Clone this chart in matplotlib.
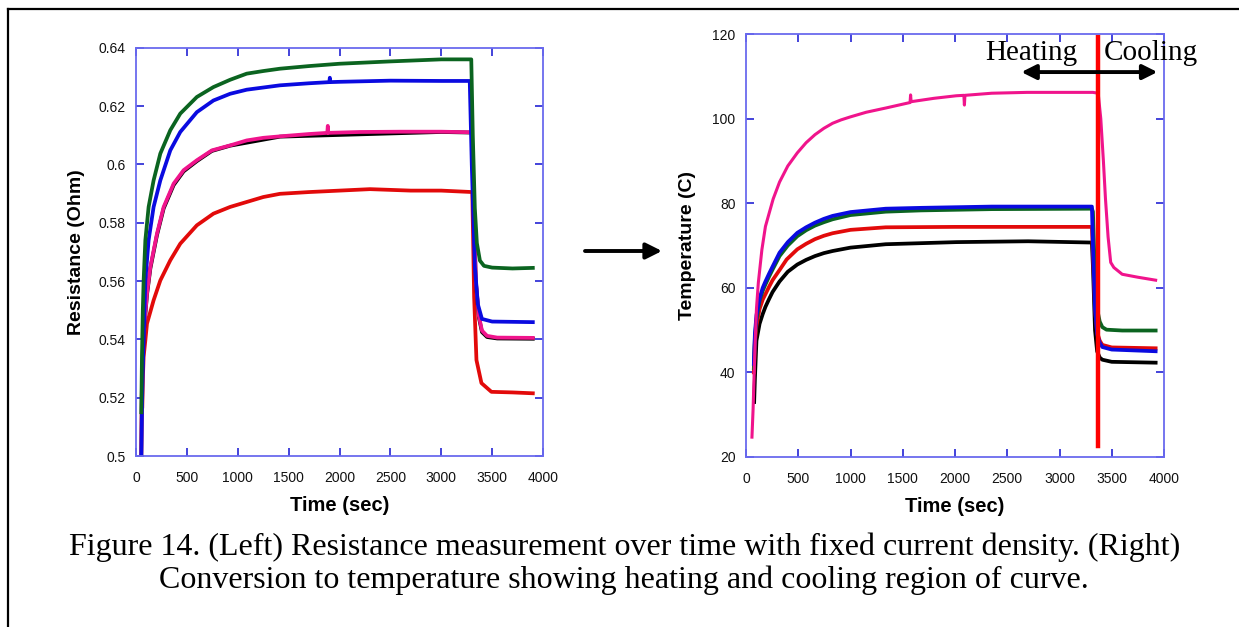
import matplotlib
matplotlib.use("Agg")
import matplotlib.pyplot as plt
from matplotlib.lines import Line2D
from matplotlib.patches import FancyArrowPatch

plt.rcParams['font.family'] = ['Liberation Sans', 'DejaVu Sans']

# ---- resistance run (left) ----
t_grn_L = [52, 59, 67, 75, 92, 124, 173, 239, 337, 435, 598, 761, 925, 1088, 1251, 1415,
           1700, 2000, 2500, 3000, 3295, 3310, 3330, 3350, 3380, 3420, 3500, 3700, 3900]
r_grn = [0.515, 0.535, 0.550, 0.5602, 0.574, 0.5854, 0.5945, 0.6037, 0.6117, 0.6174,
         0.6231, 0.6265, 0.629, 0.6311, 0.632, 0.6328, 0.6337, 0.6345, 0.6353, 0.636,
         0.636, 0.610, 0.585, 0.573, 0.567, 0.5652, 0.5646, 0.5643, 0.5645]

t_blu_L = [52, 59, 67, 75, 92, 124, 173, 239, 337, 435, 598, 761, 925, 1088, 1415, 1700,
           1900, 1905, 1910, 2000, 2500, 3000, 3280, 3300, 3330, 3360, 3400, 3500, 3900]
r_blu = [0.500, 0.517, 0.530, 0.540, 0.5602, 0.574, 0.5854, 0.5945, 0.6048, 0.6111,
         0.6179, 0.6219, 0.6242, 0.6256, 0.6271, 0.6278, 0.6282, 0.6297, 0.6282, 0.6283,
         0.6287, 0.6286, 0.6286, 0.600, 0.565, 0.552, 0.547, 0.5461, 0.5459]

t_pnk_L = [52, 59, 67, 75, 108, 141, 206, 272, 370, 468, 598, 746, 925, 1088, 1251, 1415,
           1700, 1880, 1885, 1890, 2200, 2600, 3000, 3300, 3320, 3340, 3370, 3400, 3450,
           3550, 3900]
r_pnk = [0.500, 0.528, 0.536, 0.542, 0.5557, 0.5648, 0.5762, 0.5854, 0.5934, 0.598,
         0.6014, 0.6048, 0.6065, 0.6082, 0.6091, 0.6096, 0.6104, 0.6108, 0.6132, 0.6108,
         0.6111, 0.6112, 0.6112, 0.6110, 0.585, 0.560, 0.548, 0.543, 0.5412, 0.5406,
         0.5405]

# black run sits almost exactly under the pink one
t_blk_L = [52, 59, 75, 108, 141, 206, 272, 370, 468, 598, 746, 925, 1415, 3000, 3300,
           3320, 3340, 3370, 3400, 3450, 3550, 3900]
r_blk = [0.500, 0.527, 0.5415, 0.5553, 0.5643, 0.5757, 0.5849, 0.5929, 0.5976, 0.6011,
         0.6046, 0.6064, 0.6095, 0.6111, 0.6109, 0.5845, 0.5595, 0.5475, 0.5425, 0.5408,
         0.5403, 0.5402]

t_red_L = [62, 69, 75, 92, 108, 173, 239, 337, 435, 598, 761, 925, 1088, 1251, 1415,
           1700, 2000, 2300, 2700, 3000, 3305, 3313, 3323, 3346, 3395, 3493, 3700, 3900]
r_red = [0.517, 0.528, 0.534, 0.5397, 0.5454, 0.5534, 0.5602, 0.5671, 0.5728, 0.5791,
         0.5831, 0.5854, 0.5871, 0.5888, 0.5899, 0.5905, 0.591, 0.5915, 0.591, 0.591,
         0.5905, 0.575, 0.5546, 0.5329, 0.525, 0.522, 0.5218, 0.5215]

# ---- temperature conversion (right) ----
t_pnk_R = [57, 68, 85, 100, 118, 152, 186, 220, 260, 321, 400, 491, 575, 660, 745, 829,
           910, 998, 1150, 1337, 1570, 1575, 1580, 1800, 2013, 2085, 2090, 2095, 2352,
           2690, 3320, 3370, 3395, 3420, 3440, 3465, 3490, 3520, 3600, 3750, 3920]
T_pnk = [24.7, 31.4, 45.5, 55.0, 61.2, 69.0, 74.5, 77.5, 81.0, 85.0, 88.8, 91.9, 94.3,
         96.2, 97.7, 98.9, 99.7, 100.4, 101.5, 102.5, 103.8, 105.6, 104.0, 104.8, 105.4,
         105.5, 103.2, 105.5, 106.0, 106.2, 106.2, 106.0, 100.0, 90.0, 81.0, 72.0, 66.0,
         64.8, 63.2, 62.5, 61.8]

t_blu_R = [75, 85, 100, 130, 160, 186, 220, 254, 321, 400, 491, 575, 660, 745, 829, 1000,
           1337, 1675, 2352, 3310, 3320, 3340, 3360, 3385, 3410, 3500, 3920]
T_blu = [42.0, 49.0, 53.5, 57.5, 60.0, 61.5, 63.3, 65.0, 68.3, 70.8, 73.0, 74.3, 75.4,
         76.3, 77.0, 77.9, 78.7, 78.9, 79.2, 79.2, 70.0, 55.0, 49.0, 47.0, 46.0, 45.4, 45.0]

t_grn_R = [75, 85, 100, 130, 160, 186, 220, 254, 321, 400, 491, 575, 660, 745, 829, 1000,
           1337, 1675, 2352, 3310, 3320, 3340, 3360, 3385, 3410, 3450, 3600, 3920]
T_grn = [41.0, 48.0, 52.5, 57.0, 59.3, 60.8, 62.6, 64.3, 67.5, 70.0, 72.2, 73.6, 74.7,
         75.5, 76.2, 77.2, 78.0, 78.3, 78.6, 78.7, 78.0, 62.0, 55.0, 52.0, 50.7, 50.1,
         49.9, 49.9]

t_red_R = [75, 85, 100, 130, 160, 186, 220, 254, 321, 389, 491, 575, 660, 745, 829, 1000,
           1337, 2000, 3310, 3320, 3340, 3360, 3385, 3410, 3500, 3920]
T_red = [40.0, 47.0, 51.0, 55.0, 57.2, 58.5, 60.2, 61.8, 64.2, 66.7, 69.1, 70.4, 71.5,
         72.3, 72.9, 73.7, 74.3, 74.4, 74.4, 68.0, 55.0, 49.5, 47.5, 46.5, 45.9, 45.7]

t_blk_R = [78, 85, 100, 130, 160, 186, 220, 254, 321, 400, 491, 575, 660, 745, 829, 1000,
           1337, 2013, 2700, 3310, 3320, 3340, 3360, 3385, 3410, 3500, 3920]
T_blk = [33.0, 38.4, 47.5, 51.5, 53.8, 55.5, 57.3, 59.0, 61.5, 63.8, 65.5, 66.6, 67.5,
         68.2, 68.7, 69.5, 70.3, 70.8, 71.0, 70.7, 65.0, 50.0, 45.0, 43.5, 43.0, 42.5, 42.3]

# heating / cooling boundary marker
t_split = [3365, 3365]
T_split = [22.6, 119.3]

x_ticks = [0, 500, 1000, 1500, 2000, 2500, 3000, 3500, 4000]
r_ticks = [0.5, 0.52, 0.54, 0.56, 0.58, 0.6, 0.62, 0.64]
r_ticklabels = ['0.5', '0.52', '0.54', '0.56', '0.58', '0.6', '0.62', '0.64']
T_ticks = [20, 40, 60, 80, 100, 120]

caption1 = "Figure 14. (Left) Resistance measurement over time with fixed current density. (Right)"
caption2 = "Conversion to temperature showing heating and cooling region of curve."

GREEN = '#0b6420'
BLUE = '#0a0ae0'
PINK = '#f0148c'
RED = '#e20a0a'
SPINE = '#6a6aee'
TICK = '#2424d4'

W, H = 1239, 627
fig = plt.figure(figsize=(W / 100, H / 100), dpi=100)

ax1 = fig.add_axes([136 / W, (H - 456) / H, 407 / W, 408.3 / H])
ax2 = fig.add_axes([746 / W, (H - 457) / H, 418 / W, 423 / H])


def style(ax):
    for s in ax.spines.values():
        s.set_color(SPINE)
        s.set_linewidth(1.3)
    ax.tick_params(direction='in', top=True, right=True, length=5.5, width=1.2,
                   color=TICK, labelsize=10, labelcolor='#111111')
    ax.tick_params(axis='x', pad=11)
    ax.tick_params(axis='y', pad=7.5)
    ax.set_xlim(0, 4000)
    ax.set_xticks(x_ticks)
    ax.set_xticklabels([str(v) for v in x_ticks])


lw = 2.7
ax1.plot(t_red_L, r_red, color=RED, lw=lw, solid_joinstyle='round')
ax1.plot(t_blk_L, r_blk, color='black', lw=lw, solid_joinstyle='round')
ax1.plot(t_pnk_L, r_pnk, color=PINK, lw=lw, solid_joinstyle='round')
ax1.plot(t_blu_L, r_blu, color=BLUE, lw=lw, solid_joinstyle='round')
ax1.plot(t_grn_L, r_grn, color=GREEN, lw=lw, solid_joinstyle='round')
style(ax1)
ax1.set_ylim(0.5, 0.64)
ax1.set_yticks(r_ticks)
ax1.set_yticklabels(r_ticklabels)
ax1.set_xlabel('Time (sec)', fontsize=14.5, fontweight='bold', labelpad=8)
ax1.set_ylabel('Resistance (Ohm)', fontsize=14, fontweight='bold', labelpad=10)

ax2.plot(t_blk_R, T_blk, color='black', lw=lw, solid_joinstyle='round')
ax2.plot(t_red_R, T_red, color=RED, lw=lw, solid_joinstyle='round')
ax2.plot(t_grn_R, T_grn, color=GREEN, lw=lw, solid_joinstyle='round')
ax2.plot(t_blu_R, T_blu, color=BLUE, lw=lw, solid_joinstyle='round')
ax2.plot(t_pnk_R, T_pnk, color=PINK, lw=2.2, solid_joinstyle='round')
ax2.plot(t_split, T_split, color='#ff0000', lw=3.2, clip_on=False)
style(ax2)
ax2.set_ylim(20, 120)
ax2.set_yticks(T_ticks)
ax2.set_xlabel('Time (sec)', fontsize=14.5, fontweight='bold', labelpad=8)
ax2.set_ylabel('Temperature (C)', fontsize=14, fontweight='bold', labelpad=12)

serif = ['Liberation Serif', 'DejaVu Serif']
ax2.annotate('', xy=(2635, 111), xytext=(3937, 111),
             arrowprops=dict(arrowstyle='<|-|>', color='black', lw=2.8,
                             mutation_scale=22, shrinkA=0, shrinkB=0),
             annotation_clip=False)
ax2.text(2727, 115.4, 'Heating', fontsize=21, family=serif, ha='center', va='center',
         clip_on=False)
ax2.text(3876, 115.4, 'Cooling', fontsize=21, family=serif, ha='center', va='center',
         clip_on=False)

# arrow between the two panels
fig.add_artist(FancyArrowPatch(
    (585 / W, 1 - 251 / H), (662 / W, 1 - 251 / H), transform=fig.transFigure,
    arrowstyle='-|>', mutation_scale=24, lw=2.8, color='black', shrinkA=0, shrinkB=0))

fig.text(625 / W, 1 - 547 / H, caption1, fontsize=23, family=serif,
         ha='center', va='center')
fig.text(624 / W, 1 - 580 / H, caption2, fontsize=23, family=serif,
         ha='center', va='center')

# page frame
fig.add_artist(Line2D([7.5 / W, 7.5 / W], [0, 1 - 8.5 / H], transform=fig.transFigure,
                      color='black', lw=1.6))
fig.add_artist(Line2D([7.5 / W, 1], [1 - 8.5 / H, 1 - 8.5 / H], transform=fig.transFigure,
                      color='black', lw=1.6))

fig.savefig('out.png', dpi=100)
